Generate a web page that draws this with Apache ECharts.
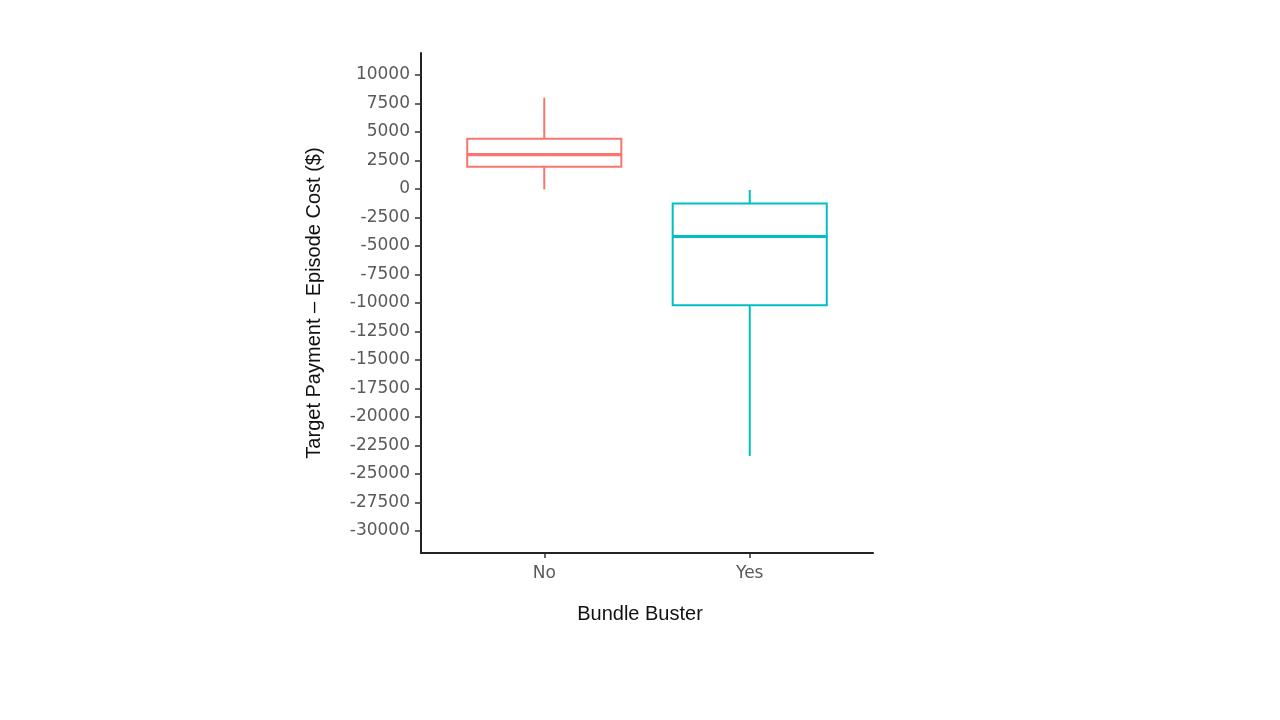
<!DOCTYPE html>
<html>
<head>
<meta charset="utf-8">
<script src="https://cdn.jsdelivr.net/npm/echarts@6/dist/echarts.min.js"></script>
<style>html,body{margin:0;padding:0;background:#fff}#c{width:1280px;height:720px}</style>
</head>
<body>
<div id="c"></div>
<script>
const categories = ['No', 'Yes'];
const whiskerLow = [-50, -23430];
const q1 = [1950, -10220];
const median = [3000, -4180];
const q3 = [4400, -1290];
const whiskerHigh = [8000, -100];
const colors = ['#F8766D', '#00BFC4'];
const yTicks = [10000, 7500, 5000, 2500, 0, -2500, -5000, -7500, -10000, -12500, -15000, -17500, -20000, -22500, -25000, -27500, -30000];
const xTicks = [1, 2];

const data = categories.map((c, i) => [i + 1, whiskerLow[i], q1[i], median[i], q3[i], whiskerHigh[i]]);

const chart = echarts.init(document.getElementById('c'));
chart.setOption({
  backgroundColor: '#fff',
  animation: false,
  title: {
    text: 'Bundle Buster',
    left: 'center',
    top: 599,
    textStyle: { fontFamily: 'Liberation Sans', fontSize: 20, fontWeight: 'normal', color: '#111' }
  },
  grid: { left: 421, right: 407, top: 53, bottom: 167 },
  xAxis: {
    type: 'value', min: 0.4, max: 2.6,
    axisLine: { show: true, onZero: false, lineStyle: { color: '#222', width: 2 } },
    axisTick: { show: true, customValues: xTicks, length: 5, lineStyle: { color: '#333', width: 1.5 } },
    axisLabel: {
      customValues: xTicks, margin: 12,
      formatter: v => categories[Math.round(v) - 1] || '',
      fontFamily: 'DejaVu Sans', fontSize: 17, color: '#5a5a5a'
    },
    splitLine: { show: false }
  },
  yAxis: {
    type: 'value', min: -31950, max: 11920,
    name: 'Target Payment – Episode Cost ($)',
    nameLocation: 'middle', nameGap: 97,
    nameTextStyle: { fontFamily: 'Liberation Sans', fontSize: 20, color: '#111' },
    axisLine: { show: true, onZero: false, lineStyle: { color: '#222', width: 2 } },
    axisTick: { show: true, customValues: yTicks, length: 6, lineStyle: { color: '#333', width: 1.5 } },
    axisLabel: {
      customValues: yTicks, margin: 11,
      formatter: v => String(v),
      fontFamily: 'DejaVu Sans', fontSize: 17, color: '#5a5a5a'
    },
    splitLine: { show: false }
  },
  series: [{
    type: 'custom',
    data: data,
    encode: { x: 0, y: [1, 2, 3, 4, 5] },
    renderItem: function (params, api) {
      const x = api.value(0);
      const idx = params.dataIndex;
      const col = colors[idx];
      const half = api.size([0.75, 0])[0] / 2;
      const pLo = api.coord([x, api.value(1)]);
      const pQ1 = api.coord([x, api.value(2)]);
      const pMed = api.coord([x, api.value(3)]);
      const pQ3 = api.coord([x, api.value(4)]);
      const pHi = api.coord([x, api.value(5)]);
      const st = { stroke: col, lineWidth: 2, fill: null };
      return {
        type: 'group',
        children: [
          { type: 'line', shape: { x1: pHi[0], y1: pHi[1], x2: pQ3[0], y2: pQ3[1] }, style: st },
          { type: 'line', shape: { x1: pQ1[0], y1: pQ1[1], x2: pLo[0], y2: pLo[1] }, style: st },
          { type: 'rect', shape: { x: pQ3[0] - half, y: pQ3[1], width: half * 2, height: pQ1[1] - pQ3[1] }, style: { stroke: col, lineWidth: 2, fill: '#fff' } },
          { type: 'line', shape: { x1: pMed[0] - half, y1: pMed[1], x2: pMed[0] + half, y2: pMed[1] }, style: { stroke: col, lineWidth: 3.2 } }
        ]
      };
    }
  }]
});
</script>
</body>
</html>
